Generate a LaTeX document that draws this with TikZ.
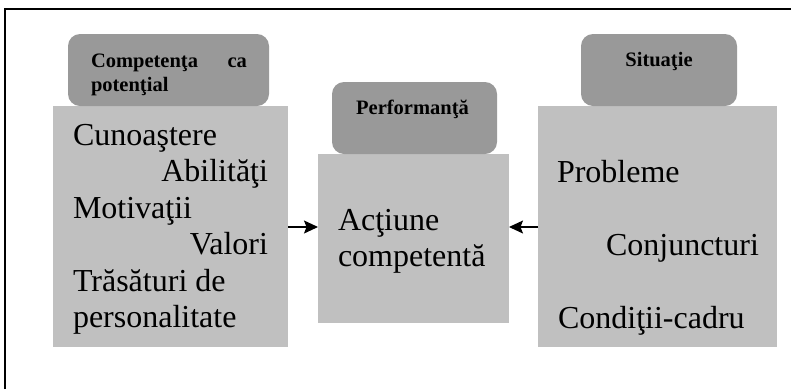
\documentclass[tikz,border=0pt]{standalone}
\usepackage{fontspec}
\setmainfont{Liberation Serif}
\usetikzlibrary{positioning,arrows.meta}

\definecolor{boxgray}{RGB}{192,192,192}
\definecolor{headgray}{RGB}{153,153,153}

\begin{document}
\begin{tikzpicture} [x=1pt,y=-1pt,every node/.style={inner sep=0pt,outer sep=0pt},]

\tikzstyle{body}=[fill=boxgray,anchor=north west]
\tikzstyle{header}=[fill=headgray,rounded corners=12pt,anchor=south west,minimum height=72pt]
\tikzstyle{item}=[font=\fontsize{32}{36}\selectfont]
\tikzstyle{title}=[font=\fontsize{20.5}{24}\selectfont\bfseries]
\tikzstyle{link}=[-{Stealth[length=14pt,width=13pt,inset=2.5pt]},line width=1.1pt]

\useasboundingbox (0,0) rectangle (791,389);

% frame (only top and left edge)
\draw [line width=2pt] (4.5,389) -- (4.5,8.5) -- (791,8.5);

% the three boxes
\node (pot) [body,minimum width=235pt,minimum height=241pt] at (53,106) {};
\node (perf) [body,minimum width=191pt,minimum height=169pt] at (318,154) {};
\node (sit) [body,minimum width=239pt,minimum height=241pt] at (538,106) {};

\node (potH) [header,minimum width=201pt] at ([xshift=15pt]pot.north west) {};
\node (perfH) [header,minimum width=165pt] at ([xshift=14pt]perf.north west) {};
\node (sitH) [header,minimum width=156pt] at ([xshift=43pt]sit.north west) {};

\node (potT) [title,text width=156pt,align=left,anchor=base west] at ([xshift=23pt,yshift=-33pt]potH.north west) {Competenţa \hfill ca\\potenţial};
\node (perfT) [title,anchor=base] at ([xshift=-2pt,yshift=-32pt]perfH.north) {Performanţă};
\node (sitT) [title,anchor=base] at ([yshift=-32pt]sitH.north) {Situaţie};

% left box
\node (cun) [item,anchor=base west] at (73,145) {Cunoaştere};
\node (abi) [item,anchor=base east] at (268,181) {Abilităţi};
\node (mot) [item,anchor=base west] at (73,218) {Motivaţii};
\node (val) [item,anchor=base east] at (268,254) {Valori};
\node (tra) [item,anchor=base west] at (73,291) {Trăsături de};
\node (pers) [item,anchor=base west] at (73,327) {personalitate};

% middle box
\node (act) [item,anchor=base west] at (338,230) {Acţiune};
\node (comp) [item,anchor=base west] at (338,266) {competentă};

% right box
\node (prob) [item,anchor=base west] at (557,182) {Probleme};
\node (conj) [item,anchor=base west] at (606,255) {Conjuncturi};
\node (cond) [item,anchor=base west] at (558,328) {Condiţii-cadru};

\coordinate (mid) at (0,227);
\draw [link] (pot.east |- mid) -- (perf.west |- mid);
\draw [link] (sit.west |- mid) -- (perf.east |- mid);

\end{tikzpicture}
\end{document}
